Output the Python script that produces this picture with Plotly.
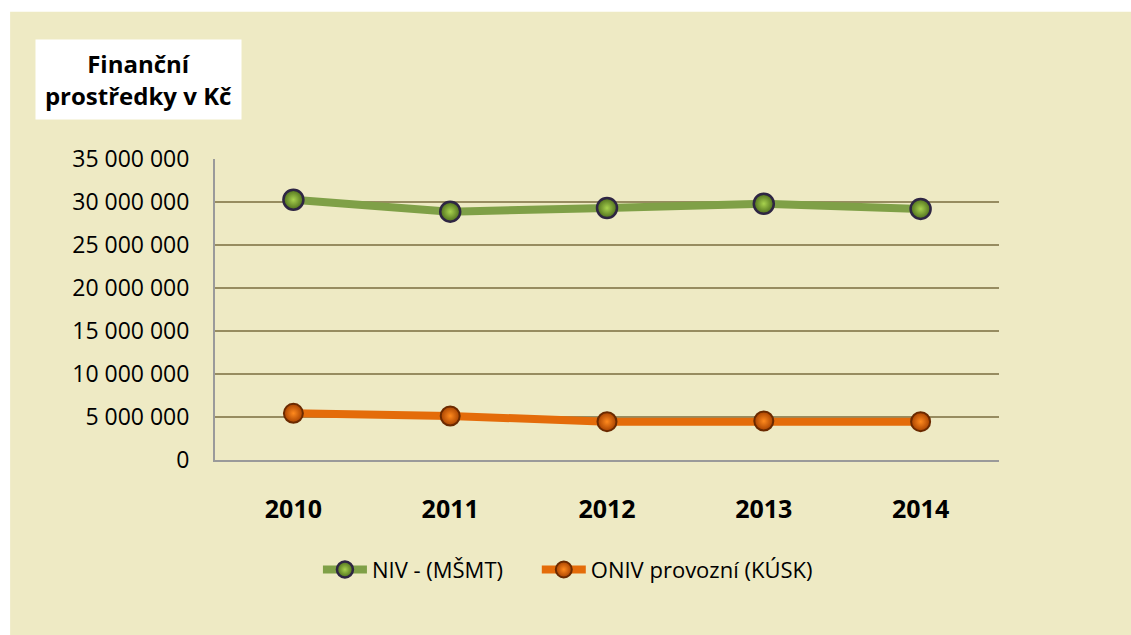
import plotly.graph_objects as go

years = ["2010", "2011", "2012", "2013", "2014"]
niv = [30270000, 28880000, 29300000, 29800000, 29200000]
oniv = [5430000, 5120000, 4460000, 4530000, 4460000]
ytick_vals = [0, 5000000, 10000000, 15000000, 20000000, 25000000, 30000000, 35000000]
ytick_text = ["0", "5 000 000", "10 000 000", "15 000 000", "20 000 000", "25 000 000", "30 000 000", "35 000 000"]
name_niv = "NIV - (MŠMT)"
name_oniv = "ONIV provozní (KÚSK)"
title_text = "Finanční<br>prostředky v Kč"

W, H = 1131, 635
L, R, T, B = 215, 131.5, 159.3, 174.7
pw = W - L - R
ph = H - T - B

def px_x(x):
    return (x - L) / pw

def px_y(y):
    return (H - B - y) / ph

FONT = "Open Sans"
BEIGE = "#EEEAC4"

fig = go.Figure()
fig.add_trace(go.Scatter(
    x=years, y=niv, name=name_niv, mode="lines+markers", legend="legend",
    line=dict(color="#7FA047", width=8),
    marker=dict(size=20, color="#4E6E1C", symbol="circle",
                gradient=dict(type="radial", color="#A8D24E"),
                line=dict(color="#2E2543", width=2.5)),
))
fig.add_trace(go.Scatter(
    x=years, y=oniv, name=name_oniv, mode="lines+markers", legend="legend2",
    line=dict(color="#E46C0A", width=8),
    marker=dict(size=19, color="#A84200", symbol="circle",
                gradient=dict(type="radial", color="#FF8A1E"),
                line=dict(color="#6B2A00", width=2)),
))

fig.add_shape(type="rect", xref="paper", yref="paper", layer="below",
              x0=px_x(10), x1=px_x(1140), y0=px_y(645), y1=px_y(12),
              fillcolor=BEIGE, line=dict(width=0))

fig.add_annotation(
    xref="paper", yref="paper", x=px_x(138.5), y=px_y(79.5),
    xanchor="center", yanchor="middle", showarrow=False,
    text="<b>" + title_text + "</b>", align="center",
    font=dict(family=FONT, size=24, color="#000000"),
    bgcolor="#FFFFFF", width=197, height=71, borderpad=4,
)

leg_common = dict(orientation="h", xanchor="left", yanchor="middle",
                  font=dict(family=FONT, size=22, color="#000000"),
                  bgcolor="rgba(0,0,0,0)", itemwidth=44)

fig.update_layout(
    width=W, height=H,
    margin=dict(l=L, r=R, t=T, b=B, pad=0),
    paper_bgcolor="#FFFFFF", plot_bgcolor="rgba(0,0,0,0)",
    font=dict(family=FONT, size=22, color="#000000"),
    showlegend=True,
    legend=dict(x=px_x(318), y=px_y(570), **leg_common),
    legend2=dict(x=px_x(537), y=px_y(570), **leg_common),
)
fig.update_xaxes(
    type="category", range=[-0.5, 4.5],
    showgrid=False, showline=True, linecolor="#9A9A9A", linewidth=2,
    ticks="", tickfont=dict(family=FONT, size=25, color="#000000", weight="bold"),
    ticklabelstandoff=26,
)
fig.update_yaxes(
    range=[0, 35000000], tickvals=ytick_vals, ticktext=ytick_text,
    showgrid=True, gridcolor="#978C60", gridwidth=2,
    showline=True, linecolor="#9A9A9A", linewidth=2, zeroline=False,
    ticks="", tickfont=dict(family=FONT, size=23, color="#000000"),
    ticklabelstandoff=19,
)

fig.write_html("out.html", config={"displayModeBar": False},
               post_script="document.body.style.margin='0';")
